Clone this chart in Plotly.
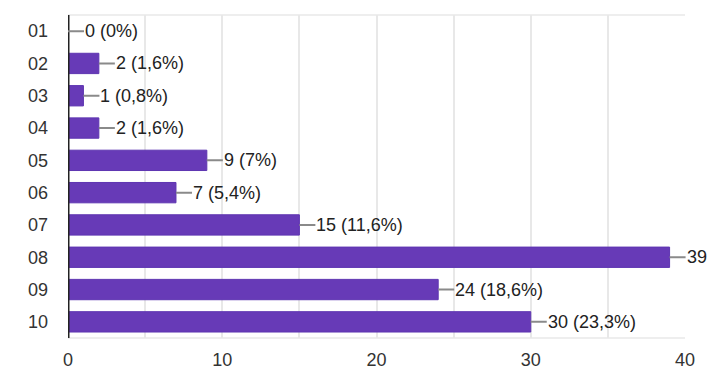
import plotly.graph_objects as go

categories = ["01", "02", "03", "04", "05", "06", "07", "08", "09", "10"]
values = [0, 2, 1, 2, 9, 7, 15, 39, 24, 30]
labels = ["0 (0%)", "2 (1,6%)", "1 (0,8%)", "2 (1,6%)", "9 (7%)", "7 (5,4%)",
          "15 (11,6%)", "39", "24 (18,6%)", "30 (23,3%)"]
x_ticks = [0, 10, 20, 30, 40]

FONT = "Liberation Sans, Arial, sans-serif"

fig = go.Figure()
fig.add_trace(go.Bar(
    x=values, y=categories, orientation="h",
    marker=dict(color="#673ab7", line=dict(color="#5e35b1", width=1)),
    hoverinfo="skip",
))

for i, (v, t) in enumerate(zip(values, labels)):
    fig.add_annotation(
        x=v, y=i, xref="x", yref="y", text=t,
        showarrow=True, arrowhead=0, arrowwidth=2, arrowcolor="#8a8a8a",
        ax=16, ay=0, xanchor="left", yanchor="middle", standoff=0,
        font=dict(family=FONT, size=18, color="#222222"),
        borderpad=0,
    )

# page body has an 8px default margin; compensate so the plot lands where the reference has it
fig.update_layout(
    width=719, height=371,
    margin=dict(l=60, r=42, t=7, b=41),
    paper_bgcolor="white", plot_bgcolor="white",
    bargap=0.37, showlegend=False,
    font=dict(family=FONT, size=18, color="#333333"),
)
fig.update_xaxes(
    range=[0, 40], tickvals=x_ticks, ticktext=[str(v) for v in x_ticks],
    showgrid=True, gridcolor="#e8e8e8", gridwidth=1.5,
    minor=dict(dtick=5, showgrid=True, gridcolor="#e8e8e8", gridwidth=1.5),
    zeroline=False, showline=False, automargin=False,
    tickfont=dict(family=FONT, size=18, color="#333333"), ticks="", ticklabelstandoff=9,
)
fig.update_yaxes(
    type="category", categoryorder="array", categoryarray=categories,
    range=[9.5, -0.5], automargin=False,
    showgrid=False, zeroline=False, showline=False,
    tickfont=dict(family=FONT, size=18, color="#333333"), ticks="", ticklabelstandoff=19,
)
fig.add_shape(type="line", xref="paper", yref="paper", x0=0, x1=1, y0=0, y1=0,
              line=dict(color="#e8e8e8", width=1.5), layer="below")
fig.add_shape(type="line", xref="paper", yref="paper", x0=0, x1=1, y0=1, y1=1,
              line=dict(color="#e8e8e8", width=1.5), layer="below")
fig.add_shape(type="line", xref="x", yref="paper", x0=0, x1=0, y0=0, y1=1,
              line=dict(color="#222222", width=3))

fig.write_html("out.html")
